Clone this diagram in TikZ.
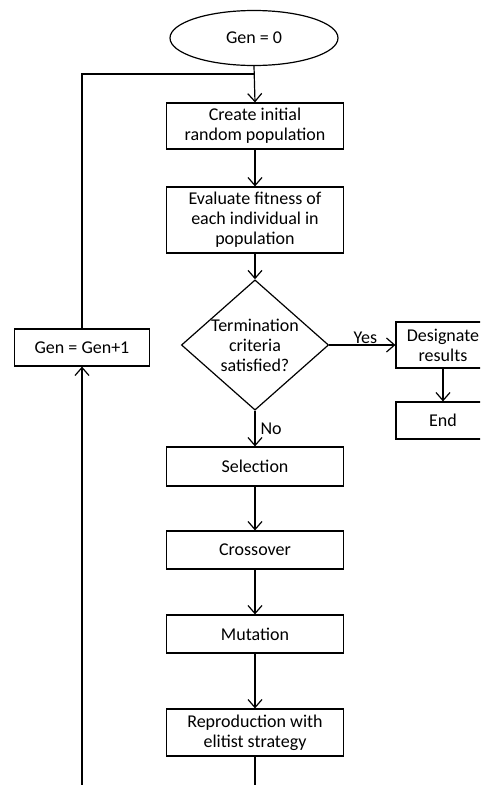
\documentclass[tikz,border=0pt]{standalone}
\usepackage{fontspec}
\setmainfont{Carlito}
\usetikzlibrary{shapes.geometric,arrows.meta}
\begin{document}
\begin{tikzpicture}[x=1pt,y=-1pt,
  every node/.style={font=\fontsize{18}{20}\selectfont, align=center},
  box/.style={draw, line width=1.2pt, inner sep=0pt, minimum width=177pt},
  arr/.style={-{Straight Barb[length=8pt,width=14pt,line width=1.2pt]}, line width=1.2pt},
  ln/.style={line width=1.2pt},
  lbl/.style={inner sep=1pt}]
\useasboundingbox (0,0) rectangle (480,785);
\clip (0,0) rectangle (480,785);
\node[draw, ellipse, line width=1.2pt, minimum width=168pt, minimum height=55pt, inner sep=0pt] (gen0) at (254,38) {Gen = 0};
\node[box, minimum height=46pt] (create) at (255,126) {Create initial\\random population};
\node[box, minimum height=66pt] (eval) at (255,220) {Evaluate fitness of\\each individual in\\population};
\node[draw, diamond, line width=1.2pt, aspect=1.13, inner sep=0pt, minimum width=147pt, minimum height=130pt] (term) at (255,345) {Termination\\criteria\\satisfied?};
\node[draw, line width=1.2pt, inner sep=0pt, minimum width=94pt, minimum height=46pt] (desig) at (443,345) {Designate\\results};
\node[draw, line width=1.2pt, inner sep=0pt, minimum width=94pt, minimum height=37pt] (end) at (443,420.5) {End};
\node[draw, line width=1.2pt, inner sep=0pt, minimum width=135pt, minimum height=37pt] (gen1) at (82,347.5) {Gen = Gen+1};
\node[box, minimum height=39pt] (sel) at (255,466.5) {Selection};
\node[box, minimum height=38pt] (cross) at (255,550) {Crossover};
\node[box, minimum height=38pt] (mut) at (255,634) {Mutation};
\node[box, minimum height=47pt] (rep) at (255,732.5) {Reproduction with\\elitist strategy};
\coordinate (top) at (255,74);
\coordinate (botR) at (255,790);
\coordinate (botL) at (82,790);
\draw[arr] (gen0.south) -- (create.north);
\draw[ln] (gen1.north) |- (top);
\draw[arr] (create) -- (eval);
\draw[arr] (eval) -- (term.north);
\draw[arr] (term.east) -- node[lbl, above, xshift=3pt] (yes) {Yes} (desig.west);
\draw[arr] (desig) -- (end);
\draw[arr] (term.south) -- node[lbl, right, xshift=4pt] (no) {No} (sel.north);
\draw[arr] (sel) -- (cross);
\draw[arr] (cross) -- (mut);
\draw[arr] (mut) -- (rep);
\draw[ln] (rep.south) -- (botR);
\draw[arr] (botL) -- (gen1.south);
\end{tikzpicture}
\end{document}
